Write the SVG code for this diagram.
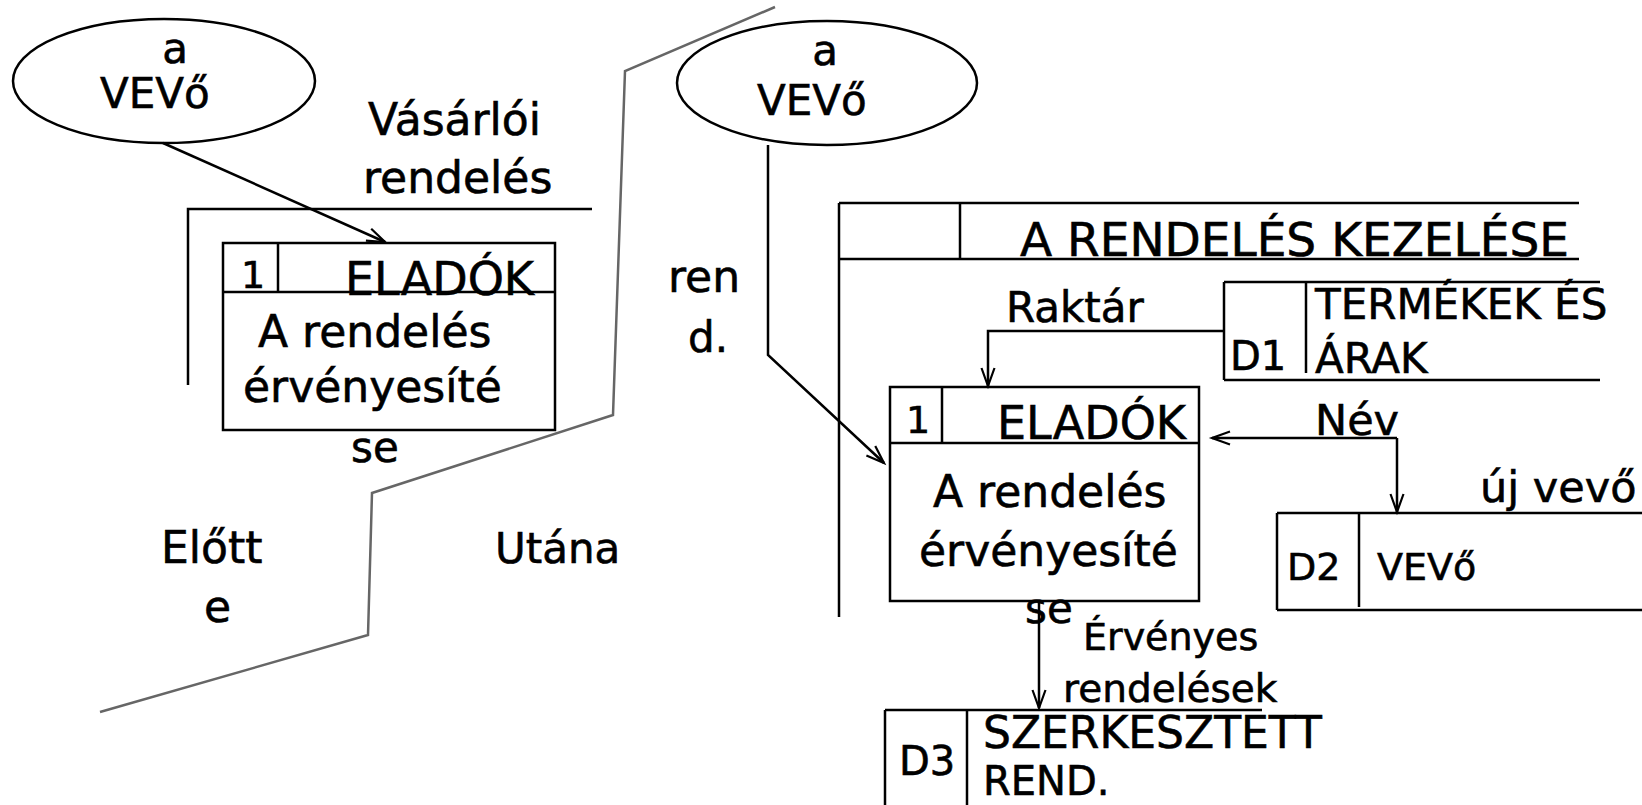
<svg xmlns="http://www.w3.org/2000/svg" width="1642" height="805" viewBox="0 0 1642 805">
<style>
.ln{fill:none;stroke:#000;stroke-width:2.5}
.gr{fill:none;stroke:#666;stroke-width:2.5}
.t{font-family:"DejaVu Sans","Liberation Sans",sans-serif;fill:#000;stroke:#000;stroke-width:0.6}
.f42{font-size:42px}
.f44{font-size:44px}
.f46{font-size:46px}
.f40{font-size:40px}
.f38{font-size:38px}
.f47{font-size:47px}
</style>
<defs>
<marker id="ah" markerUnits="userSpaceOnUse" markerWidth="24" markerHeight="16" viewBox="-20 -8 24 16" refX="0" refY="0" orient="auto">
<path d="M-18,-6.5 L0,0 L-18,6.5" fill="none" stroke="#000" stroke-width="2.2"/>
</marker>
</defs>
<rect width="1642" height="805" fill="#fff"/>

<g id="divider">
<polyline class="gr" points="775,7 625,71 613,415 372,493 368,635 100,712"/>
</g>

<g id="before-label"><text class="t f44" x="161" y="563">Előtt</text><text class="t f44" x="204" y="622">e</text></g>
<g id="after-label"><text class="t f42" x="495" y="563">Utána</text></g>

<g id="vevo-left">
<ellipse class="ln" cx="164" cy="81" rx="151" ry="62"/>
<text class="t f42" x="175" y="63" text-anchor="middle">a</text>
<text class="t f42" x="100" y="108">VEVő</text>
</g>

<g id="frame-left">
<polyline class="ln" points="592,209 188,209 188,385"/>
</g>

<g id="process-left">
<rect class="ln" x="223" y="243" width="332" height="187"/>
<line class="ln" x1="223" y1="292" x2="555" y2="292"/>
<line class="ln" x1="278" y1="243" x2="278" y2="292"/>
<text class="t f38" x="241" y="288">1</text>
<text class="t f46" x="345" y="295">ELADÓK</text>
<text class="t f44" x="258" y="347">A rendelés</text>
<text class="t f44" x="243" y="402">érvényesíté</text>
<text class="t f42" x="351" y="462">se</text>
</g>

<g id="vevo-right">
<ellipse class="ln" cx="827" cy="83" rx="150" ry="62"/>
<text class="t f42" x="825" y="65" text-anchor="middle">a</text>
<text class="t f42" x="757" y="115">VEVő</text>
</g>

<g id="frame-right">
<line class="ln" x1="839" y1="203" x2="1579" y2="203"/>
<line class="ln" x1="839" y1="259" x2="1579" y2="259"/>
<line class="ln" x1="839" y1="203" x2="839" y2="617"/>
<line class="ln" x1="960" y1="203" x2="960" y2="259"/>
<text class="t f47" x="1020" y="256">A RENDELÉS KEZELÉSE</text>
</g>

<g id="store-d1">
<line class="ln" x1="1224" y1="282" x2="1600" y2="282"/>
<line class="ln" x1="1224" y1="380" x2="1600" y2="380"/>
<line class="ln" x1="1224" y1="282" x2="1224" y2="380"/>
<line class="ln" x1="1306" y1="282" x2="1306" y2="373"/>
<text class="t f40" x="1230" y="370">D1</text>
<text class="t f42" x="1315" y="319">TERMÉKEK ÉS</text>
<text class="t f42" x="1315" y="373">ÁRAK</text>
</g>

<g id="process-right">
<rect class="ln" x="890" y="387" width="309" height="214"/>
<line class="ln" x1="890" y1="443" x2="1199" y2="443"/>
<line class="ln" x1="942" y1="387" x2="942" y2="443"/>
<text class="t f38" x="906" y="433">1</text>
<text class="t f46" x="997" y="439">ELADÓK</text>
<text class="t f44" x="933" y="507">A rendelés</text>
<text class="t f44" x="919" y="566">érvényesíté</text>
<text class="t f42" x="1025" y="623">se</text>
</g>

<g id="store-d2">
<line class="ln" x1="1277" y1="513" x2="1642" y2="513"/>
<line class="ln" x1="1277" y1="610" x2="1642" y2="610"/>
<line class="ln" x1="1277" y1="513" x2="1277" y2="610"/>
<line class="ln" x1="1359" y1="513" x2="1359" y2="607"/>
<text class="t f38" x="1287" y="580">D2</text>
<text class="t f38" x="1377" y="580">VEVő</text>
</g>

<g id="store-d3">
<line class="ln" x1="885" y1="710" x2="1262" y2="710"/>
<line class="ln" x1="885" y1="710" x2="885" y2="805"/>
<line class="ln" x1="967" y1="710" x2="967" y2="805"/>
<text class="t f40" x="899" y="775">D3</text>
<text class="t f44" x="983" y="748">SZERKESZTETT</text>
<text class="t f40" x="983" y="795">REND.</text>
</g>

<g id="connectors">
<line class="ln" x1="163" y1="143" x2="385" y2="242" marker-end="url(#ah)"/>
<polyline class="ln" points="768,145 768,355 884,463" marker-end="url(#ah)"/>
<polyline class="ln" points="1224,331 988,331 988,386" marker-end="url(#ah)"/>
<line class="ln" x1="1397" y1="438" x2="1212" y2="438" marker-end="url(#ah)"/>
<polyline class="ln" points="1397,438 1397,512" marker-end="url(#ah)"/>
<line class="ln" x1="1039" y1="602" x2="1039" y2="708" marker-end="url(#ah)"/>
</g>

<g id="labels">
<text class="t f44" x="368" y="135">Vásárlói</text>
<text class="t f44" x="363" y="193">rendelés</text>
<text class="t f44" x="668" y="292">ren</text>
<text class="t f42" x="688" y="352">d.</text>
<text class="t f42" x="1006" y="322">Raktár</text>
<text class="t" style="font-size:43px" x="1315" y="435">Név</text>
<text class="t" style="font-size:43px" x="1480" y="502">új vevő</text>
<text class="t f38" x="1083" y="650">Érvényes</text>
<text class="t" style="font-size:39px" x="1063" y="702">rendelések</text>
</g>
</svg>
